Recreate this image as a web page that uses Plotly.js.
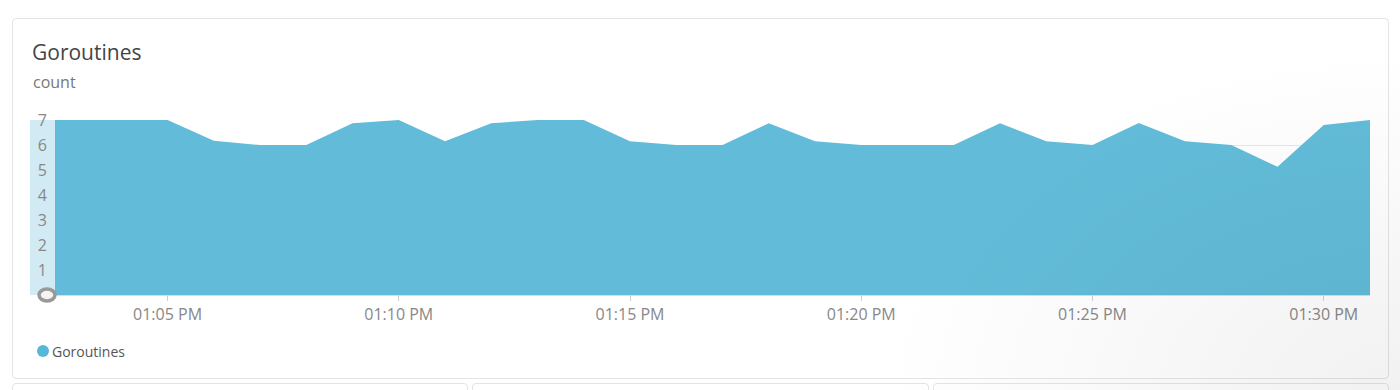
<!DOCTYPE html>
<html>
<head>
<meta charset="utf-8">
<script src="https://cdn.plot.ly/plotly-3.0.1.min.js"></script>
<style>
  html, body { margin: 0; padding: 0; width: 1400px; height: 390px; overflow: hidden; background: #fff; font-family: "Open Sans", sans-serif; }
  .card { position: absolute; box-sizing: border-box; border: 1px solid #e4e4e4; border-radius: 4px; background: #fff; }
  #chart { position: absolute; left: 0; top: 0; width: 1400px; height: 390px; }
  #shade { position: absolute; left: 0; top: 0; width: 1400px; height: 390px; pointer-events: none;
           background: radial-gradient(ellipse 520px 340px at 100% 100%, rgba(0,0,0,0.055) 0%, rgba(0,0,0,0) 100%); }
</style>
</head>
<body>
<div class="card" style="left:12px; top:18px; width:1377px; height:361px;"></div>
<div class="card" style="left:12px; top:383px; width:456px; height:60px;"></div>
<div class="card" style="left:472px; top:383px; width:457px; height:60px;"></div>
<div class="card" style="left:933px; top:383px; width:456px; height:60px;"></div>
<div id="chart"></div>
<div id="shade"></div>
<script>
// ---- data ----
const times = [
  "2024-01-01 13:02:00", "2024-01-01 13:03:00", "2024-01-01 13:04:00", "2024-01-01 13:05:00",
  "2024-01-01 13:06:00", "2024-01-01 13:07:00", "2024-01-01 13:08:00", "2024-01-01 13:09:00",
  "2024-01-01 13:10:00", "2024-01-01 13:11:00", "2024-01-01 13:12:00", "2024-01-01 13:13:00",
  "2024-01-01 13:14:00", "2024-01-01 13:15:00", "2024-01-01 13:16:00", "2024-01-01 13:17:00",
  "2024-01-01 13:18:00", "2024-01-01 13:19:00", "2024-01-01 13:20:00", "2024-01-01 13:21:00",
  "2024-01-01 13:22:00", "2024-01-01 13:23:00", "2024-01-01 13:24:00", "2024-01-01 13:25:00",
  "2024-01-01 13:26:00", "2024-01-01 13:27:00", "2024-01-01 13:28:00", "2024-01-01 13:29:00",
  "2024-01-01 13:30:00", "2024-01-01 13:31:00"
];
const goroutines = [
  7, 7, 7, 7,
  6.17, 6, 6, 6.87,
  7, 6.15, 6.87, 7,
  7, 6.15, 6, 6,
  6.87, 6.15, 6, 6,
  6, 6.87, 6.15, 6,
  6.88, 6.15, 6, 5.13,
  6.8, 7
];
const seriesName = "Goroutines";
const chartTitle = "Goroutines";
const unitLabel = "count";
const yTickVals = [1, 2, 3, 4, 5, 6, 7];
const xRange = ["2024-01-01 13:02:34", "2024-01-01 13:31:00"];

// ---- layout helpers (pixel -> paper) ----
const W = 1400, H = 390;
const px = v => v / W;
const py = v => 1 - v / H;

const trace = {
  x: times,
  y: goroutines,
  type: "scatter",
  mode: "lines",
  fill: "tozeroy",
  fillcolor: "#62bcd9",
  line: { width: 0, color: "#62bcd9" },
  name: seriesName,
  showlegend: false,
  hoverinfo: "x+y"
};

const layout = {
  width: W,
  height: H,
  autosize: false,
  margin: { l: 0, r: 0, t: 0, b: 0, pad: 0 },
  paper_bgcolor: "rgba(0,0,0,0)",
  plot_bgcolor: "rgba(0,0,0,0)",
  font: { family: "Open Sans, sans-serif", color: "#888" },
  title: {
    text: chartTitle,
    x: px(32), xref: "paper", xanchor: "left",
    y: py(53), yref: "paper", yanchor: "middle",
    font: { size: 21, color: "#444", family: "Open Sans, sans-serif" }
  },
  xaxis: {
    type: "date",
    domain: [px(55), px(1370)],
    range: xRange,
    tick0: "2024-01-01 13:00:00",
    dtick: 300000,
    tickformat: "%I:%M %p",
    ticks: "outside",
    ticklen: 5,
    tickcolor: "#d0d0d0",
    showline: true,
    linecolor: "#dcdcdc",
    linewidth: 1,
    showgrid: false,
    zeroline: false,
    tickfont: { size: 16, color: "#888" },
    fixedrange: true
  },
  yaxis: {
    domain: [py(295), py(120)],
    range: [0, 7],
    tickvals: yTickVals,
    ticktext: yTickVals.map(String),
    showgrid: true,
    gridcolor: "#e6e6e6",
    gridwidth: 1,
    zeroline: false,
    showline: false,
    ticks: "",
    ticklabelstandoff: 7,
    tickfont: { size: 16, color: "#888" },
    fixedrange: true
  },
  shapes: [
    // light band behind the y tick labels
    { type: "rect", layer: "below", xref: "paper", yref: "y",
      x0: px(30), x1: px(55), y0: 0, y1: 7,
      fillcolor: "#d2eaf3", line: { width: 0 } },
    // grey ring at origin
    { type: "circle", layer: "above", xref: "paper", yref: "paper",
      xsizemode: "pixel", ysizemode: "pixel",
      xanchor: px(47), yanchor: py(295),
      x0: -8, x1: 8, y0: -6, y1: 6,
      fillcolor: "#f4f4f4", line: { color: "#999999", width: 3.5 } },
    // legend marker
    { type: "circle", layer: "above", xref: "paper", yref: "paper",
      xsizemode: "pixel", ysizemode: "pixel",
      xanchor: px(43), yanchor: py(351),
      x0: -6, x1: 6, y0: -6, y1: 6,
      fillcolor: "#56b8d8", line: { width: 0 } }
  ],
  annotations: [
    { text: unitLabel, xref: "paper", yref: "paper",
      x: px(31), y: py(82), xanchor: "left", yanchor: "middle",
      showarrow: false, font: { size: 16, color: "#777" } },
    { text: seriesName, xref: "paper", yref: "paper",
      x: px(50), y: py(351), xanchor: "left", yanchor: "middle",
      showarrow: false, font: { size: 14, color: "#555" } }
  ],
  showlegend: false
};

Plotly.newPlot("chart", [trace], layout, { displayModeBar: false, staticPlot: true });
</script>
</body>
</html>
